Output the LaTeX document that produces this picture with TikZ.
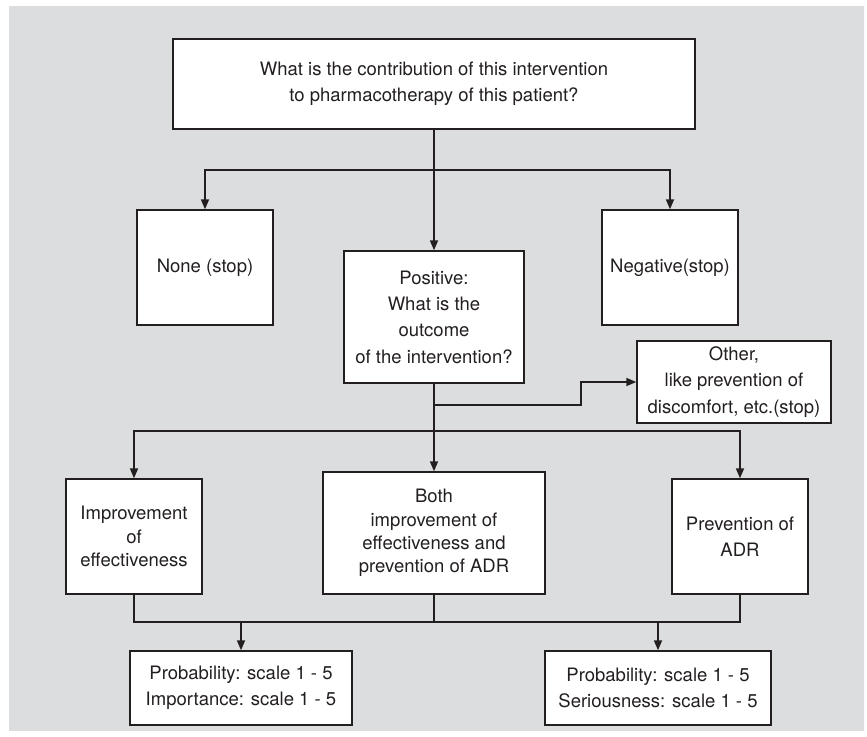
\documentclass[tikz,border=0pt]{standalone}
\usepackage{fontspec}
\setmainfont{TeX Gyre Heros}
\usepackage{xcolor}
\usetikzlibrary{arrows.meta}

\definecolor{panelgray}{RGB}{220,221,223}
\definecolor{inkgray}{RGB}{35,31,32}

\begin{document}
\begin{tikzpicture}[x=1pt,y=1pt,yscale=-1,xscale=1,
  box/.style={draw=inkgray,fill=white,line width=1.4pt,inner sep=2pt,align=center,
    font=\fontsize{18.5}{26.4}\selectfont,text=inkgray},
  tight/.style={font=\fontsize{18.5}{23.2}\selectfont},
  link/.style={draw=inkgray,line width=1.7pt},
  arr/.style={link,-{Triangle[length=10pt,width=8pt]}}]
%set diagram size to the whole image
\useasboundingbox (0,0) rectangle (867,736);
%Background panel
\fill [panelgray] (9,6) rectangle (864,731);

%Shape: Question box
\node [box,minimum width=522,minimum height=90] (q) at (434,84) {What is the contribution of this intervention\\to pharmacotherapy of this patient?};
%Shape: first answers
\node [box,minimum width=136,minimum height=115] (none) at (205,267.5) {None (stop)};
\node [box,minimum width=136,minimum height=115] (neg) at (670,267.5) {Negative(stop)};
\node [box,minimum width=180,minimum height=132] (pos) at (434,317) {Positive:\\What is the\\outcome\\of the intervention?};
\node [box,minimum width=194,minimum height=82] (other) at (734,382) {Other,\\like prevention of\\discomfort, etc.(stop)};
%Shape: outcomes
\node [box,tight,minimum width=136,minimum height=115] (impr) at (134,536.5) {Improvement\\of\\effectiveness};
\node [box,tight,minimum width=222,minimum height=122] (both) at (434,533) {Both\\improvement of\\effectiveness and\\prevention of ADR};
\node [box,minimum width=136,minimum height=115] (prev) at (740,536.5) {Prevention of\\ADR};
%Shape: scales
\node [box,minimum width=222,minimum height=74] (scaleA) at (241,688) {Probability: scale 1 - 5\\Importance: scale 1 - 5};
\node [box,minimum width=226,minimum height=74] (scaleB) at (658,688) {Probability: scale 1 - 5\\Seriousness: scale 1 - 5};

%Junction points
\coordinate (split1) at (434,170);
\coordinate (split2) at (434,405);
\coordinate (split3) at (434,431);
\coordinate (merge) at (434,622);

%Straight Lines from the question
\draw [arr] (q.south) -- (pos.north);
\draw [arr] (split1) -| (none.north);
\draw [arr] (split1) -| (neg.north);
%Straight Lines from positive
\draw [link] (pos.south) -- (split3);
\draw [arr] (split2) -- ++(147,0) |- (other.west);
\draw [arr] (split3) -- (both.north);
\draw [arr] (split3) -| (impr.north);
\draw [arr] (split3) -| (prev.north);
%Straight Lines to the scales
\draw [link] (impr.south) |- (merge) -| (prev.south);
\draw [link] (both.south) -- (merge);
\draw [arr] (merge -| scaleA.north) -- (scaleA.north);
\draw [arr] (merge -| scaleB.north) -- (scaleB.north);

\end{tikzpicture}
\end{document}
